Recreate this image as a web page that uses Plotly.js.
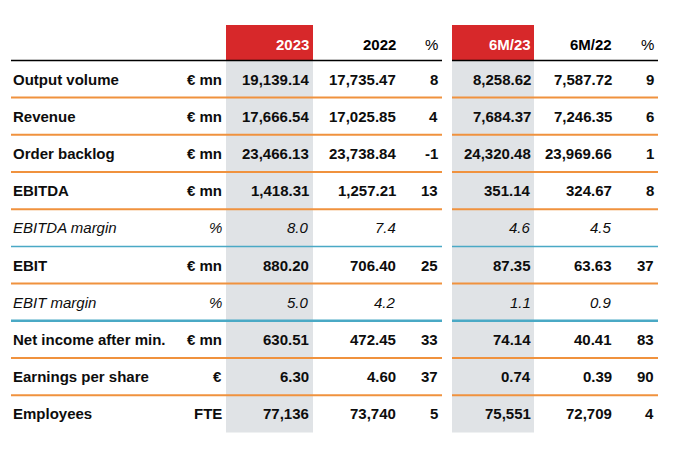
<!DOCTYPE html>
<html>
<head>
<meta charset="utf-8">
<script src="https://cdn.plot.ly/plotly-3.0.1.min.js"></script>
<style>html,body{margin:0;padding:0;background:#fff;}#chart{width:673px;height:449px;}</style>
</head>
<body>
<div id="chart"></div>
<script>
// ---- data ----
const headers = ['2023', '2022', '%', '6M/23', '6M/22', '%'];
const labels = ['Output volume', 'Revenue', 'Order backlog', 'EBITDA', 'EBITDA margin', 'EBIT',
  'EBIT margin', 'Net income after min.', 'Earnings per share', 'Employees'];
const units = ['€ mn', '€ mn', '€ mn', '€ mn', '%', '€ mn', '%', '€ mn', '€', 'FTE'];
const decimals = [2, 2, 2, 2, 1, 2, 1, 2, 2, 0];
const fy2023 = [19139.14, 17666.54, 23466.13, 1418.31, 8.0, 880.20, 5.0, 630.51, 6.30, 77136];
const fy2022 = [17735.47, 17025.85, 23738.84, 1257.21, 7.4, 706.40, 4.2, 472.45, 4.60, 73740];
const fyPct = [8, 4, -1, 13, null, 25, null, 33, 37, 5];
const h2023 = [8258.62, 7684.37, 24320.48, 351.14, 4.6, 87.35, 1.1, 74.14, 0.74, 75551];
const h2022 = [7587.72, 7246.35, 23969.66, 324.67, 4.5, 63.63, 0.9, 40.41, 0.39, 72709];
const hPct = [9, 6, 1, 8, null, 37, null, 83, 90, 4];
const italicRows = [4, 6];
const separatorColors = ['orange', 'orange', 'orange', 'orange', 'blue', 'orange', 'blueThick', 'orange', 'orange'];

// ---- styles / positions ----
const FONT = 'Liberation Sans, Arial, sans-serif';
const C = { red: '#d7282a', gray: '#e0e3e6', orange: '#f0923e', blue: '#4aa9c5', text: '#0d0d0d', header: '#000000' };
const colRight = [309, 396, 438, 531, 612, 654];   // x (axis units) right edge of value columns
const labelX = 13, unitRight = 222;
const hlCols = [[226, 313], [452, 534]];
const segs = [[11, 442], [452, 658]];
const headerY = -0.92, headerTop = -1.45, lastRowBottom = 9.5;

function fmt(v, d) {
  if (v === null || v === undefined) return '';
  return new Intl.NumberFormat('en-US', { minimumFractionDigits: d, maximumFractionDigits: d }).format(v);
}

const annotations = [];
const shapes = [];

// highlighted columns
hlCols.forEach(([a, b]) => {
  shapes.push({ type: 'rect', xref: 'x', yref: 'y', x0: a, x1: b, y0: -0.5, y1: lastRowBottom,
    fillcolor: C.gray, line: { width: 0 }, layer: 'below' });
  shapes.push({ type: 'rect', xref: 'x', yref: 'y', x0: a, x1: b, y0: headerTop, y1: -0.5,
    fillcolor: C.red, line: { width: 0 }, layer: 'below' });
});

// header line
segs.forEach(([a, b]) => shapes.push({ type: 'line', xref: 'x', yref: 'y', x0: a, x1: b, y0: -0.5, y1: -0.5,
  line: { color: '#000', width: 1.5 } }));

// separators
separatorColors.forEach((c, i) => {
  const col = c === 'orange' ? C.orange : C.blue;
  const w = c === 'blueThick' ? 2.5 : (c === 'blue' ? 1.5 : 2);
  segs.forEach(([a, b]) => shapes.push({ type: 'line', xref: 'x', yref: 'y', x0: a, x1: b, y0: i + 0.5, y1: i + 0.5,
    line: { color: col, width: w } }));
});

const base = { xref: 'x', yref: 'y', yanchor: 'middle', showarrow: false, borderpad: 0, borderwidth: 0 };

// headers
headers.forEach((h, j) => {
  const white = (j === 0 || j === 3);
  const bold = h !== '%';
  annotations.push(Object.assign({}, base, { x: colRight[j], y: headerY, xanchor: 'right',
    text: bold ? '<b>' + h + '</b>' : h,
    font: { family: FONT, size: 15, color: white ? '#ffffff' : C.header } }));
});

// rows
const cols = [fy2023, fy2022, fyPct, h2023, h2022, hPct];
labels.forEach((lab, i) => {
  const it = italicRows.includes(i);
  const wrap = s => it ? '<i>' + s + '</i>' : '<b>' + s + '</b>';
  const f = { family: FONT, size: 15, color: C.text };
  annotations.push(Object.assign({}, base, { x: labelX, y: i, xanchor: 'left', text: wrap(lab), font: f }));
  annotations.push(Object.assign({}, base, { x: unitRight, y: i, xanchor: 'right', text: wrap(units[i]), font: f }));
  cols.forEach((arr, j) => {
    const isPct = (j === 2 || j === 5);
    const s = fmt(arr[i], isPct ? 0 : decimals[i]);
    if (!s) return;
    annotations.push(Object.assign({}, base, { x: colRight[j], y: i, xanchor: 'right', text: wrap(s), font: f }));
  });
});

const rowsPx = 37.2, row0Px = 79, H = 449, W = 673;
const yTop = -row0Px / rowsPx, yBottom = yTop + H / rowsPx;

const layout = {
  width: W, height: H,
  margin: { l: 0, r: 0, t: 0, b: 0, pad: 0 },
  paper_bgcolor: '#fff', plot_bgcolor: '#fff',
  showlegend: false,
  xaxis: { range: [0, W], visible: false, fixedrange: true },
  yaxis: { range: [yBottom, yTop], visible: false, fixedrange: true },
  shapes: shapes,
  annotations: annotations
};

Plotly.newPlot('chart', [{ type: 'scatter', x: [], y: [], hoverinfo: 'skip' }], layout, { displayModeBar: false, staticPlot: true });
</script>
</body>
</html>
